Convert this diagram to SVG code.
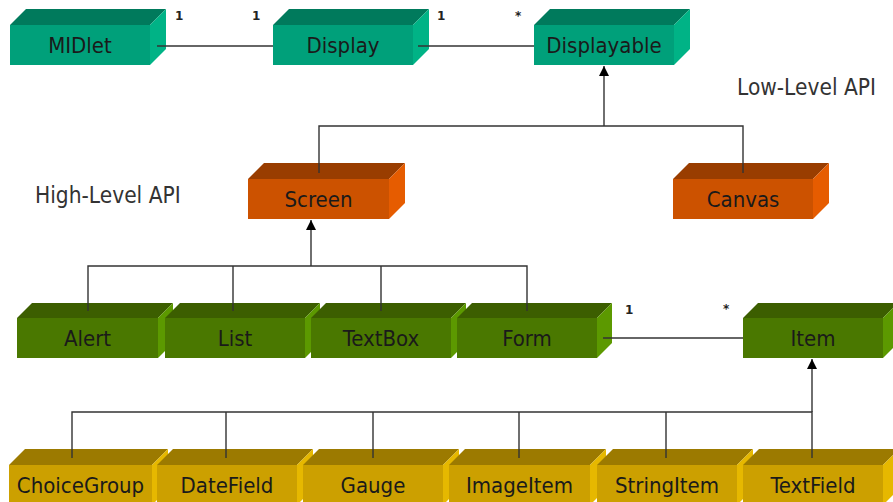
<svg xmlns="http://www.w3.org/2000/svg" width="893" height="502" viewBox="0 0 893 502">
<defs>
<style>
.lbl{font-family:"DejaVu Sans Condensed","DejaVu Sans",sans-serif;font-stretch:condensed;font-size:22px;fill:#1a1a1a;text-anchor:middle}
.api{font-family:"DejaVu Sans Condensed","DejaVu Sans",sans-serif;font-stretch:condensed;font-size:22.5px;fill:#333}
.mul{font-family:"DejaVu Sans","Verdana",sans-serif;font-size:12px;font-weight:bold;fill:#222}
.c{stroke:#333;stroke-width:1.4;fill:none}
.t .f{fill:#00A07A}.t .tp{fill:#007A5C}.t .r{fill:#00B386}
.o .f{fill:#CC5200}.o .tp{fill:#993D00}.o .r{fill:#E65C00}
.g .f{fill:#4A7800}.g .tp{fill:#3C5E00}.g .r{fill:#5C9900}
.y .f{fill:#CCA000}.y .tp{fill:#9C7A00}.y .r{fill:#E6B800}
</style>
<marker id="ah" viewBox="0 0 10 10" refX="10" refY="5" markerWidth="10" markerHeight="10" markerUnits="userSpaceOnUse" orient="auto">
<path d="M0,0 L10,5 L0,10 z" fill="#000"/>
</marker>
</defs>
<rect width="893" height="502" fill="#fff"/>

<g id="MIDlet" class="t"><rect class="f" x="10" y="25" width="140" height="40"/><polygon class="tp" points="10,25 26,9 166,9 150,25"/><polygon class="r" points="150,25 166,9 166,49 150,65"/><text class="lbl" x="80" y="53">MIDlet</text></g>
<g id="Display" class="t"><rect class="f" x="273" y="25" width="140" height="40"/><polygon class="tp" points="273,25 289,9 429,9 413,25"/><polygon class="r" points="413,25 429,9 429,49 413,65"/><text class="lbl" x="343" y="53">Display</text></g>
<g id="Displayable" class="t"><rect class="f" x="534" y="25" width="140" height="40"/><polygon class="tp" points="534,25 550,9 690,9 674,25"/><polygon class="r" points="674,25 690,9 690,49 674,65"/><text class="lbl" x="604" y="53">Displayable</text></g>

<g id="Screen" class="o"><rect class="f" x="248" y="179" width="141" height="40"/><polygon class="tp" points="248,179 264,163 405,163 389,179"/><polygon class="r" points="389,179 405,163 405,203 389,219"/><text class="lbl" x="318.5" y="207">Screen</text></g>
<g id="Canvas" class="o"><rect class="f" x="673" y="179" width="140" height="40"/><polygon class="tp" points="673,179 689,163 829,163 813,179"/><polygon class="r" points="813,179 829,163 829,203 813,219"/><text class="lbl" x="743" y="207">Canvas</text></g>

<g id="Alert" class="g"><rect class="f" x="17" y="318" width="141" height="40"/><polygon class="tp" points="17,318 32,303 173,303 158,318"/><polygon class="r" points="158,318 173,303 173,343 158,358"/><text class="lbl" x="87.5" y="346">Alert</text></g>
<g id="List" class="g"><rect class="f" x="165" y="318" width="140" height="40"/><polygon class="tp" points="165,318 180,303 320,303 305,318"/><polygon class="r" points="305,318 320,303 320,343 305,358"/><text class="lbl" x="235" y="346">List</text></g>
<g id="TextBox" class="g"><rect class="f" x="311" y="318" width="140" height="40"/><polygon class="tp" points="311,318 326,303 466,303 451,318"/><polygon class="r" points="451,318 466,303 466,343 451,358"/><text class="lbl" x="381" y="346">TextBox</text></g>
<g id="Form" class="g"><rect class="f" x="457" y="318" width="140" height="40"/><polygon class="tp" points="457,318 472,303 612,303 597,318"/><polygon class="r" points="597,318 612,303 612,343 597,358"/><text class="lbl" x="527" y="346">Form</text></g>
<g id="Item" class="g"><rect class="f" x="743" y="318" width="140" height="40"/><polygon class="tp" points="743,318 758,303 898,303 883,318"/><polygon class="r" points="883,318 898,303 898,343 883,358"/><text class="lbl" x="813" y="346">Item</text></g>

<g id="ChoiceGroup" class="y"><rect class="f" x="9" y="465" width="143" height="40"/><polygon class="tp" points="9,465 25,449 168,449 152,465"/><polygon class="r" points="152,465 168,449 168,489 152,505"/><text class="lbl" x="80.5" y="493">ChoiceGroup</text></g>
<g id="DateField" class="y"><rect class="f" x="157" y="465" width="140" height="40"/><polygon class="tp" points="157,465 173,449 313,449 297,465"/><polygon class="r" points="297,465 313,449 313,489 297,505"/><text class="lbl" x="227" y="493">DateField</text></g>
<g id="Gauge" class="y"><rect class="f" x="303" y="465" width="140" height="40"/><polygon class="tp" points="303,465 319,449 459,449 443,465"/><polygon class="r" points="443,465 459,449 459,489 443,505"/><text class="lbl" x="373" y="493">Gauge</text></g>
<g id="ImageItem" class="y"><rect class="f" x="449" y="465" width="141" height="40"/><polygon class="tp" points="449,465 465,449 606,449 590,465"/><polygon class="r" points="590,465 606,449 606,489 590,505"/><text class="lbl" x="519.5" y="493">ImageItem</text></g>
<g id="StringItem" class="y"><rect class="f" x="597" y="465" width="140" height="40"/><polygon class="tp" points="597,465 613,449 753,449 737,465"/><polygon class="r" points="737,465 753,449 753,489 737,505"/><text class="lbl" x="667" y="493">StringItem</text></g>
<g id="TextField" class="y"><rect class="f" x="743" y="465" width="140" height="40"/><polygon class="tp" points="743,465 759,449 899,449 883,465"/><polygon class="r" points="883,465 899,449 899,489 883,505"/><text class="lbl" x="813" y="493">TextField</text></g>

<g id="connectors">
<path class="c" d="M157,46 H273"/>
<path class="c" d="M418,46 H534"/>
<path class="c" d="M604,126 V66" marker-end="url(#ah)"/>
<path class="c" d="M319,173 V126 H743 V173"/>
<path class="c" d="M311,266 V220" marker-end="url(#ah)"/>
<path class="c" d="M88,311 V266 H527 V311 M233,266 V311 M381,266 V311"/>
<path class="c" d="M603,338 H743"/>
<path class="c" d="M812,412 V359" marker-end="url(#ah)"/>
<path class="c" d="M72,458 V412 H812 V458 M226,412 V458 M373,412 V458 M519,412 V458 M666,412 V458"/>
</g>

<g id="labels">
<text class="mul" x="175" y="20">1</text>
<text class="mul" x="252" y="20">1</text>
<text class="mul" x="437" y="20">1</text>
<text class="mul" x="515" y="20">*</text>
<text class="mul" x="625" y="314">1</text>
<text class="mul" x="723" y="313">*</text>
<text class="api" x="35" y="203">High-Level API</text>
<text class="api" x="737" y="95">Low-Level API</text>
</g>
</svg>
